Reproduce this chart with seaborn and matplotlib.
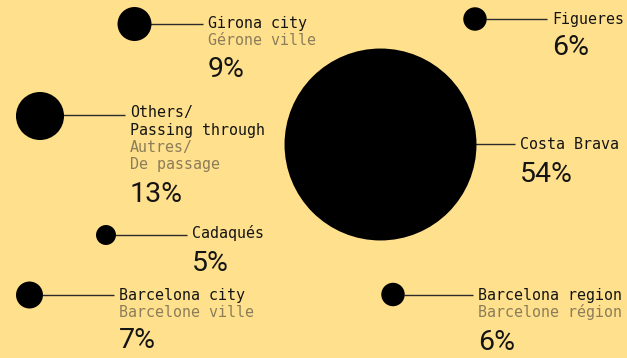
import matplotlib
matplotlib.use("Agg")
import matplotlib.pyplot as plt
import seaborn as sns
import pandas as pd

# ---- data ----
labels_en = ["Girona city", "Figueres", "Others/\nPassing through", "Costa Brava",
             "Cadaqués", "Barcelona city", "Barcelona region"]
labels_fr = ["Gérone ville", "", "Autres/\nDe passage", "", "", "Barcelone ville", "Barcelone région"]
shares = [9, 6, 13, 54, 5, 7, 6]

# ---- layout (pixel positions of the bubble layout) ----
cx = [134.5, 475, 40, 380.5, 106, 29.5, 393]
cy = [24, 19, 116, 144.5, 235, 295, 294.5]
line_y = [23.5, 19, 115, 144, 235, 295, 294.5]
label_x = [208, 552, 130, 520, 192, 119, 478]
label_base = [28, 24, 117.5, 149.3, 238, 300, 300]
pct_base = [77, 55, 201.7, 181.7, 270.7, 348, 350]

BG = "#FFE08C"
DARK = "#141414"
GREY = "#8B7D5A"
LINE_H = 17.2
W, H, DPI = 627, 358, 100

def radius(p):
    return 1.2 + 1.755 * p

df = pd.DataFrame({"x": cx, "y": cy, "share": shares})
size_map = {p: (2 * radius(p) * 72 / DPI) ** 2 for p in set(shares)}

sns.set_theme(style="white")
fig = plt.figure(figsize=(W / DPI, H / DPI), dpi=DPI, facecolor=BG)
ax = fig.add_axes([0, 0, 1, 1])
ax.set_facecolor(BG)
ax.set_xlim(0, W)
ax.set_ylim(H, 0)
ax.axis("off")

sns.scatterplot(data=df, x="x", y="y", size="share", sizes=size_map,
                color="black", linewidth=0, legend=False, ax=ax, zorder=3)

mono = "DejaVu Sans Mono"
for i in range(len(shares)):
    r = radius(shares[i])
    ax.plot([cx[i] + r - 1, label_x[i] - 5], [line_y[i], line_y[i]],
            color="#2a2a2a", lw=1.0, zorder=2, solid_capstyle="butt")
    y = label_base[i]
    for ln in labels_en[i].split("\n"):
        ax.text(label_x[i], y, ln, family=mono, fontsize=10.8, color=DARK,
                va="baseline", ha="left")
        y += LINE_H
    if labels_fr[i]:
        for ln in labels_fr[i].split("\n"):
            ax.text(label_x[i], y, ln, family=mono, fontsize=10.8, color=GREY,
                    va="baseline", ha="left")
            y += LINE_H
    ax.text(label_x[i], pct_base[i], f"{shares[i]}%", family="Roboto",
            fontweight="normal", fontsize=20.5, color=DARK, va="baseline", ha="left")

fig.savefig("out.png", dpi=DPI, facecolor=BG)
